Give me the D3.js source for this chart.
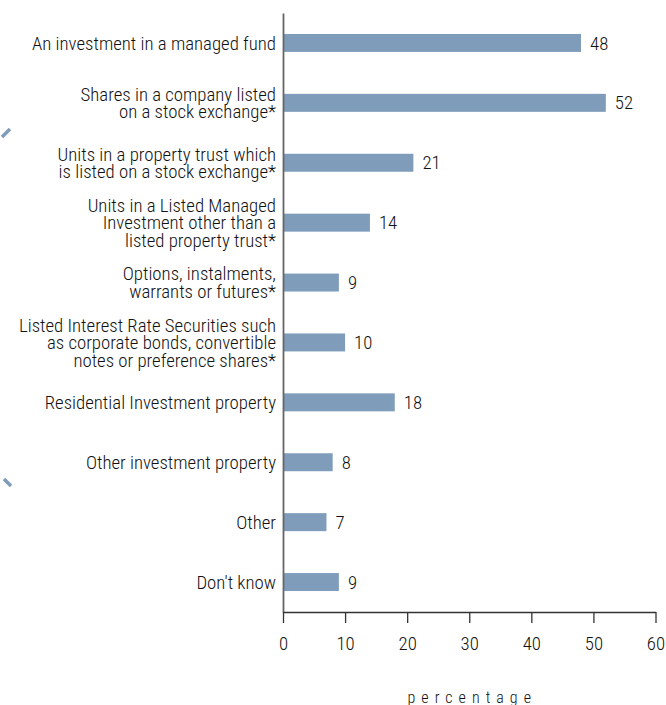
<!DOCTYPE html>
<html>
<head>
<meta charset="utf-8">
<script src="https://d3js.org/d3.v7.min.js"></script>
<style>
  body { margin: 0; background: #fff; }
  svg text { font-family: "Roboto Condensed", "DejaVu Sans Condensed", sans-serif; font-weight: 300; fill: #111; }
</style>
</head>
<body>
<svg id="chart" width="666" height="705"></svg>
<script>
// Investment types held (percentage of respondents)
const categories = [
  "An investment in a managed fund",
  "Shares in a company listed\non a stock exchange*",
  "Units in a property trust which\nis listed on a stock exchange*",
  "Units in a Listed Managed\nInvestment other than a\nlisted property trust*",
  "Options, instalments,\nwarrants or futures*",
  "Listed Interest Rate Securities such\nas corporate bonds, convertible\nnotes or preference shares*",
  "Residential Investment property",
  "Other investment property",
  "Other",
  "Don't know"
];
const values = [48, 52, 21, 14, 9, 10, 18, 8, 7, 9];
const xTicks = [0, 10, 20, 30, 40, 50, 60];
const xTitle = "percentage";

const svg = d3.select("#chart");
const labelSize = 18.8;
const barColor = "#7f9cba";

const x = d3.scaleLinear().domain([0, 60]).range([283, 655.5]);
const y = d3.scaleBand()
  .domain(categories)
  .range([13, 612])
  .paddingInner(0.7)
  .paddingOuter(0.35);

const rows = categories.map((c, i) => ({ cat: c, value: values[i] }));

// bars
svg.append("g")
  .selectAll("rect")
  .data(rows)
  .join("rect")
  .attr("x", x(0))
  .attr("y", d => y(d.cat))
  .attr("width", d => x(d.value) - x(0))
  .attr("height", y.bandwidth())
  .attr("fill", barColor);

// value labels
svg.append("g")
  .selectAll("text")
  .data(rows)
  .join("text")
  .attr("x", d => x(d.value) + 9)
  .attr("y", d => y(d.cat) + y.bandwidth() / 2)
  .attr("dy", "0.35em")
  .style("font-size", labelSize + "px")
  .text(d => d.value);

// category labels, split over several lines
const lineGap = 17.5;
const catLabels = svg.append("g")
  .selectAll("text")
  .data(rows)
  .join("text")
  .attr("text-anchor", "end")
  .style("font-size", labelSize + "px");

catLabels.each(function(d) {
  const lines = d.cat.split("\n");
  const mid = y(d.cat) + y.bandwidth() / 2;
  const t = d3.select(this);
  lines.forEach((ln, i) => {
    t.append("tspan")
      .attr("x", x(0) - 7)
      .attr("y", mid + (i - (lines.length - 1) / 2) * lineGap)
      .attr("dy", "0.35em")
      .text(ln);
  });
});

// y axis line
const yAxis = svg.append("g")
  .attr("transform", `translate(${x(0)},0)`)
  .call(d3.axisLeft(y).tickSize(0).tickSizeOuter(0).tickFormat(""));
yAxis.select(".domain").attr("stroke", "#666").attr("stroke-width", 1.8);

// x axis
const xAxis = svg.append("g")
  .attr("transform", `translate(0,612)`)
  .call(d3.axisBottom(x).tickValues(xTicks).tickSize(11).tickSizeOuter(0).tickPadding(14));
xAxis.select(".domain").attr("stroke", "#333").attr("stroke-width", 1.3);
xAxis.selectAll(".tick line").attr("stroke", "#333").attr("stroke-width", 1.3);
xAxis.selectAll(".tick text")
  .style("font-family", "'Roboto Condensed', sans-serif")
  .style("font-weight", 300)
  .style("font-size", labelSize + "px")
  .attr("fill", "#111");

// axis title
svg.append("text")
  .attr("x", (x(0) + x(60)) / 2 + 3)
  .attr("y", 703)
  .attr("text-anchor", "middle")
  .style("font-size", "16px")
  .style("letter-spacing", "6px")
  .text(xTitle);

// small decorative strokes on the left margin
const marks = svg.append("g").attr("stroke", barColor).attr("stroke-width", 3.5).attr("stroke-linecap", "butt");
marks.append("line").attr("x1", 2).attr("y1", 137).attr("x2", 10).attr("y2", 129);
marks.append("line").attr("x1", 4).attr("y1", 479).attr("x2", 11).attr("y2", 486);
</script>
</body>
</html>
